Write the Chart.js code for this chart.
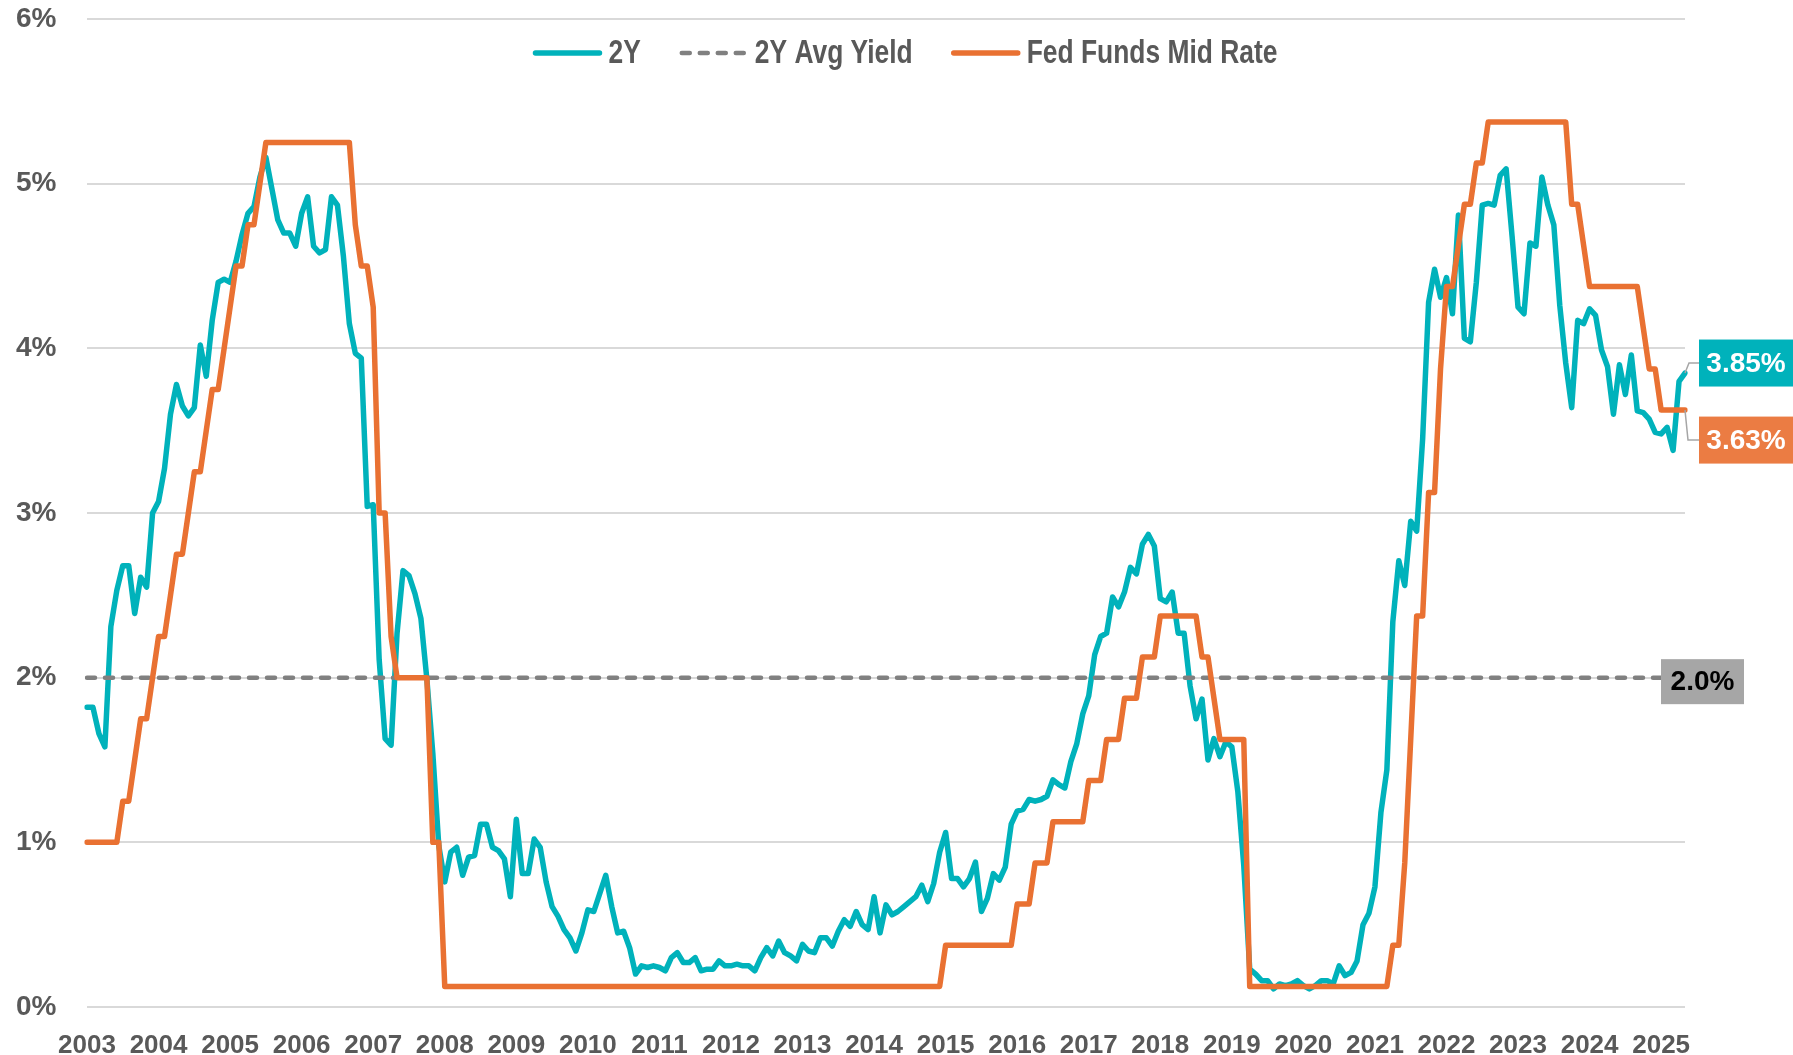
<!DOCTYPE html>
<html>
<head>
<meta charset="utf-8">
<title>2Y yield vs Fed Funds</title>
<script src="https://cdn.jsdelivr.net/npm/chart.js@4.4.1/dist/chart.umd.min.js"></script>
<style>
  html, body { margin: 0; padding: 0; background: #fff; }
  canvas { display: block; }
</style>
</head>
<body>
<canvas id="chart" width="1793" height="1055"></canvas>
<script>
// month-end values, Dec 2003 .. Apr 2026
const y2Yield = [
  1.82,
  1.82, 1.66, 1.58, 2.31, 2.53, 2.68, 2.68, 2.39, 2.61, 2.55, 3.00, 3.07,
  3.27, 3.60, 3.78, 3.65, 3.59, 3.64, 4.02, 3.83, 4.17, 4.40, 4.42, 4.40,
  4.53, 4.69, 4.82, 4.86, 5.04, 5.16, 4.97, 4.78, 4.70, 4.70, 4.62, 4.82,
  4.92, 4.62, 4.58, 4.60, 4.92, 4.87, 4.56, 4.15, 3.97, 3.94, 3.04, 3.05,
  2.11, 1.63, 1.59, 2.27, 2.65, 2.62, 2.51, 2.36, 1.99, 1.54, 0.98, 0.76,
  0.94, 0.97, 0.80, 0.91, 0.92, 1.11, 1.11, 0.97, 0.95, 0.90, 0.67, 1.14,
  0.81, 0.81, 1.02, 0.97, 0.76, 0.61, 0.55, 0.47, 0.42, 0.34, 0.45, 0.59,
  0.58, 0.69, 0.80, 0.61, 0.45, 0.46, 0.36, 0.20, 0.25, 0.24, 0.25, 0.24,
  0.22, 0.30, 0.33, 0.27, 0.27, 0.30, 0.22, 0.23, 0.23, 0.28, 0.25, 0.25,
  0.26, 0.25, 0.25, 0.22, 0.30, 0.36, 0.31, 0.40, 0.33, 0.31, 0.28, 0.38,
  0.34, 0.33, 0.42, 0.42, 0.37, 0.46, 0.53, 0.49, 0.58, 0.50, 0.47, 0.67,
  0.45, 0.62, 0.56, 0.58, 0.61, 0.64, 0.67, 0.74, 0.64, 0.75, 0.94, 1.06,
  0.78, 0.78, 0.73, 0.78, 0.88, 0.58, 0.66, 0.81, 0.77, 0.85, 1.11, 1.19,
  1.20, 1.26, 1.25, 1.26, 1.28, 1.38, 1.35, 1.33, 1.49, 1.60, 1.78, 1.89,
  2.14, 2.25, 2.27, 2.49, 2.43, 2.52, 2.67, 2.63, 2.81, 2.87, 2.80, 2.48,
  2.46, 2.52, 2.27, 2.27, 1.95, 1.75, 1.87, 1.50, 1.63, 1.52, 1.61, 1.58,
  1.31, 0.86, 0.23, 0.20, 0.16, 0.16, 0.11, 0.14, 0.13, 0.14, 0.16, 0.13,
  0.11, 0.13, 0.16, 0.16, 0.14, 0.25, 0.19, 0.21, 0.28, 0.50, 0.57, 0.73,
  1.18, 1.44, 2.34, 2.71, 2.56, 2.95, 2.89, 3.45, 4.28, 4.48, 4.31, 4.43,
  4.21, 4.81, 4.06, 4.04, 4.40, 4.87, 4.88, 4.87, 5.05, 5.09, 4.68, 4.25,
  4.21, 4.64, 4.62, 5.04, 4.87, 4.75, 4.26, 3.91, 3.64, 4.17, 4.15, 4.24,
  4.20, 3.99, 3.89, 3.60, 3.90, 3.72, 3.96, 3.62, 3.61, 3.57, 3.49, 3.48,
  3.52, 3.38, 3.80, 3.85
];

const fedFundsMid = [
  1.00,
  1.00, 1.00, 1.00, 1.00, 1.00, 1.25, 1.25, 1.50, 1.75, 1.75, 2.00, 2.25,
  2.25, 2.50, 2.75, 2.75, 3.00, 3.25, 3.25, 3.50, 3.75, 3.75, 4.00, 4.25,
  4.50, 4.50, 4.75, 4.75, 5.00, 5.25, 5.25, 5.25, 5.25, 5.25, 5.25, 5.25,
  5.25, 5.25, 5.25, 5.25, 5.25, 5.25, 5.25, 5.25, 4.75, 4.50, 4.50, 4.25,
  3.00, 3.00, 2.25, 2.00, 2.00, 2.00, 2.00, 2.00, 2.00, 1.00, 1.00, 0.125,
  0.125, 0.125, 0.125, 0.125, 0.125, 0.125, 0.125, 0.125, 0.125, 0.125, 0.125, 0.125,
  0.125, 0.125, 0.125, 0.125, 0.125, 0.125, 0.125, 0.125, 0.125, 0.125, 0.125, 0.125,
  0.125, 0.125, 0.125, 0.125, 0.125, 0.125, 0.125, 0.125, 0.125, 0.125, 0.125, 0.125,
  0.125, 0.125, 0.125, 0.125, 0.125, 0.125, 0.125, 0.125, 0.125, 0.125, 0.125, 0.125,
  0.125, 0.125, 0.125, 0.125, 0.125, 0.125, 0.125, 0.125, 0.125, 0.125, 0.125, 0.125,
  0.125, 0.125, 0.125, 0.125, 0.125, 0.125, 0.125, 0.125, 0.125, 0.125, 0.125, 0.125,
  0.125, 0.125, 0.125, 0.125, 0.125, 0.125, 0.125, 0.125, 0.125, 0.125, 0.125, 0.375,
  0.375, 0.375, 0.375, 0.375, 0.375, 0.375, 0.375, 0.375, 0.375, 0.375, 0.375, 0.625,
  0.625, 0.625, 0.875, 0.875, 0.875, 1.125, 1.125, 1.125, 1.125, 1.125, 1.125, 1.375,
  1.375, 1.375, 1.625, 1.625, 1.625, 1.875, 1.875, 1.875, 2.125, 2.125, 2.125, 2.375,
  2.375, 2.375, 2.375, 2.375, 2.375, 2.375, 2.125, 2.125, 1.875, 1.625, 1.625, 1.625,
  1.625, 1.625, 0.125, 0.125, 0.125, 0.125, 0.125, 0.125, 0.125, 0.125, 0.125, 0.125,
  0.125, 0.125, 0.125, 0.125, 0.125, 0.125, 0.125, 0.125, 0.125, 0.125, 0.125, 0.125,
  0.125, 0.125, 0.375, 0.375, 0.875, 1.625, 2.375, 2.375, 3.125, 3.125, 3.875, 4.375,
  4.375, 4.625, 4.875, 4.875, 5.125, 5.125, 5.375, 5.375, 5.375, 5.375, 5.375, 5.375,
  5.375, 5.375, 5.375, 5.375, 5.375, 5.375, 5.375, 5.375, 4.875, 4.875, 4.625, 4.375,
  4.375, 4.375, 4.375, 4.375, 4.375, 4.375, 4.375, 4.375, 4.125, 3.875, 3.875, 3.625,
  3.625, 3.625, 3.625, 3.625
];

const avgYield2Y = 2.0;

// x axis shows a year label on each December
const yearTicks = ['2003','2004','2005','2006','2007','2008','2009','2010','2011','2012','2013','2014',
                   '2015','2016','2017','2018','2019','2020','2021','2022','2023','2024','2025'];
const yTicks = [0, 1, 2, 3, 4, 5, 6];

const START_YEAR = 2003, START_MONTH = 12;
const months = y2Yield.map((_, i) => {
  const t = START_YEAR * 12 + (START_MONTH - 1) + i;
  return Math.floor(t / 12) + '-' + String(t % 12 + 1).padStart(2, '0');
});

const TEAL = '#00B2BB';
const ORANGE = '#E97132';
const GREY = '#808080';
const TEXT = '#595959';
const ARIAL = "'Liberation Sans', Arial, sans-serif";

Chart.defaults.font.family = ARIAL;
Chart.defaults.color = TEXT;

// legend drawn inside the plot, centred near the top (narrow text)
const topLegend = {
  id: 'topLegend',
  afterDatasetsDraw(chart) {
    const ctx = chart.ctx;
    const sampleW = 70, gap = 6, itemGap = 38, cx = 905, y = 53, squeeze = 0.8;
    ctx.save();
    ctx.font = 'bold 33px ' + ARIAL;
    ctx.textBaseline = 'middle';
    const items = chart.data.datasets.map(ds => ({ ds, w: ctx.measureText(ds.label).width * squeeze }));
    const total = items.reduce((s, it) => s + sampleW + gap + it.w, 0) + itemGap * (items.length - 1);
    let x = cx - total / 2;
    items.forEach(it => {
      ctx.beginPath();
      ctx.lineWidth = it.ds.borderWidth;
      ctx.strokeStyle = it.ds.borderColor;
      ctx.lineCap = 'round';
      ctx.setLineDash(it.ds.borderDash || []);
      ctx.moveTo(x + 3, y);
      ctx.lineTo(x + sampleW - 3, y);
      ctx.stroke();
      ctx.setLineDash([]);
      ctx.save();
      ctx.translate(x + sampleW + gap, y + 1);
      ctx.scale(squeeze, 1);
      ctx.fillStyle = TEXT;
      ctx.fillText(it.ds.label, 0, 0);
      ctx.restore();
      x += sampleW + gap + it.w + itemGap;
    });
    ctx.restore();
  }
};

// value tags on the right
function tag(ctx, x, cy, w, h, fill, color, text) {
  ctx.fillStyle = fill;
  ctx.fillRect(x, cy - h / 2, w, h);
  ctx.fillStyle = color;
  ctx.font = 'bold 28px ' + ARIAL;
  ctx.textAlign = 'center';
  ctx.textBaseline = 'middle';
  ctx.fillText(text, x + w / 2, cy + 1);
}

const endTags = {
  id: 'endTags',
  afterDraw(chart) {
    const ctx = chart.ctx;
    const ys = chart.scales.y;
    const right = chart.chartArea.right;
    const last2 = y2Yield[y2Yield.length - 1];
    const lastF = fedFundsMid[fedFundsMid.length - 1];
    const p2 = ys.getPixelForValue(last2), pf = ys.getPixelForValue(lastF);
    const c2 = p2 - 10, cf = pf + 30;
    ctx.save();
    ctx.strokeStyle = '#A6A6A6';
    ctx.lineWidth = 1.5;
    ctx.beginPath();
    ctx.moveTo(right, p2); ctx.lineTo(right + 4, c2); ctx.lineTo(1699, c2);
    ctx.moveTo(right, pf); ctx.lineTo(right + 3, cf); ctx.lineTo(1699, cf);
    ctx.stroke();
    tag(ctx, 1699, c2, 94, 47, TEAL, '#FFFFFF', last2.toFixed(2) + '%');
    tag(ctx, 1699, cf, 94, 47, '#EB7C43', '#FFFFFF', lastF.toFixed(2) + '%');
    tag(ctx, 1661, ys.getPixelForValue(avgYield2Y) + 4, 83, 45, '#A6A6A6', '#000000', avgYield2Y.toFixed(1) + '%');
    ctx.restore();
  }
};

new Chart(document.getElementById('chart'), {
  type: 'line',
  data: {
    labels: months,
    datasets: [{
      label: '2Y',
      data: y2Yield,
      borderColor: TEAL,
      borderWidth: 5.5,
      pointRadius: 0,
      borderJoinStyle: 'round',
      borderCapStyle: 'round',
      order: 3
    }, {
      label: '2Y Avg Yield',
      data: months.map(() => avgYield2Y),
      borderColor: GREY,
      borderWidth: 4.5,
      borderDash: [8, 10],
      borderCapStyle: 'round',
      pointRadius: 0,
      order: 2
    }, {
      label: 'Fed Funds Mid Rate',
      data: fedFundsMid,
      borderColor: ORANGE,
      borderWidth: 5.5,
      pointRadius: 0,
      borderJoinStyle: 'round',
      borderCapStyle: 'round',
      order: 1
    }]
  },
  options: {
    responsive: false,
    animation: false,
    devicePixelRatio: 1,
    layout: { padding: { top: 19, right: 108, bottom: 0, left: 16 } },
    plugins: { legend: { display: false }, tooltip: { enabled: false } },
    scales: {
      x: {
        type: 'category',
        offset: false,
        grid: { display: false, drawTicks: false },
        border: { display: false },
        afterFit: s => { s.height = 48; },
        ticks: {
          autoSkip: false,
          maxRotation: 0,
          padding: 23,
          color: TEXT,
          font: { size: 26, weight: 'bold' },
          callback: (v, i) => {
            const m = months[i];
            const yr = m.slice(0, 4);
            return m.endsWith('-12') && yearTicks.includes(yr) ? yr : null;
          }
        }
      },
      y: {
        min: yTicks[0],
        max: yTicks[yTicks.length - 1],
        afterFit: s => { s.width = 71; },
        afterBuildTicks: s => { s.ticks = yTicks.map(v => ({ value: v })); },
        grid: { color: '#D9D9D9', lineWidth: 2, drawTicks: false },
        border: { display: false },
        ticks: {
          padding: 0,
          crossAlign: 'far',
          color: TEXT,
          font: { size: 28, weight: 'bold' },
          callback: v => v + '%'
        }
      }
    }
  },
  plugins: [topLegend, endTags]
});
</script>
</body>
</html>
